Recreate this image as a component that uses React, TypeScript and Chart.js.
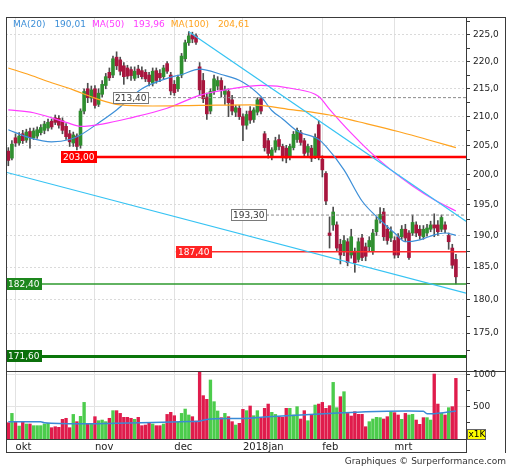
import React, { useEffect, useRef } from "react";
import { Chart, registerables } from "chart.js";

Chart.register(...registerables);

// ---------------- data ----------------
const monthStartIdx = [2, 24, 46, 65, 87, 107];
const monthLabels = ["okt", "nov", "dec", "2018jan", "feb", "mrt"];

const opens = [
  204.0, 202.8, 206.3, 205.4, 207.0, 205.9, 207.4, 206.3, 206.6, 207.2,
  207.6, 208.0, 209.2, 209.8, 209.7, 209.3, 208.3, 207.0, 205.4, 206.6,
  205.0, 211.0, 215.0, 213.3, 215.0, 212.2, 214.0, 215.6, 218.0, 217.5,
  220.8, 220.3, 219.2, 218.8, 218.5, 216.9, 218.6, 218.3, 218.0, 217.5,
  216.0, 218.3, 217.8, 217.2, 219.6, 217.5, 215.8, 215.0, 217.5, 220.5,
  223.5, 225.0, 224.8, 219.0, 216.5, 213.5, 211.0, 214.5, 215.5, 216.5,
  214.0, 214.5, 213.0, 210.8, 211.5, 210.0, 208.5, 211.0, 209.5, 210.8,
  213.2, 207.0, 205.8, 203.0, 204.2, 206.0, 204.8, 204.5, 203.0, 204.6,
  206.0, 207.2, 205.8, 203.8, 204.5, 203.0, 208.6, 202.6, 200.2, 190.4,
  191.7, 191.7, 188.6, 187.5, 189.0, 186.9, 187.5, 186.2, 189.6, 188.2,
  188.2, 187.5, 190.6, 192.6, 193.8, 191.0, 189.6, 189.2, 189.8, 189.8,
  191.0, 190.4, 190.4, 191.7, 191.0, 189.8, 190.4, 191.0, 191.7, 191.7,
  191.0, 191.7, 190.0, 188.0, 186.2,
];
const highs = [
  204.6, 205.8, 207.0, 207.2, 207.6, 207.8, 208.0, 208.0, 208.2, 208.6,
  209.2, 209.6, 209.6, 210.3, 210.2, 209.8, 208.8, 207.6, 207.3, 207.0,
  211.4, 215.0, 216.0, 215.5, 215.6, 215.0, 216.5, 217.8, 218.8, 221.0,
  221.8, 220.8, 219.8, 219.3, 219.0, 219.0, 219.3, 219.0, 218.5, 218.0,
  218.8, 218.8, 218.5, 219.3, 220.0, 218.0, 216.5, 217.5, 221.5, 224.0,
  225.6, 225.5, 225.2, 219.8, 217.8, 214.2, 215.0, 217.5, 217.2, 217.0,
  215.5, 215.0, 213.8, 212.0, 212.0, 210.5, 211.0, 211.8, 211.6, 213.4,
  213.4, 207.4, 206.2, 204.6, 206.4, 206.8, 205.2, 205.0, 205.2, 207.4,
  208.0, 207.6, 206.2, 205.2, 205.0, 207.0, 209.3, 203.2, 200.5, 193.0,
  194.6, 192.2, 189.4, 190.0, 189.5, 191.0, 188.0, 189.6, 190.2, 188.8,
  189.8, 191.0, 193.0, 194.5, 194.4, 191.6, 191.4, 189.8, 190.3, 191.6,
  191.8, 190.8, 193.3, 192.2, 191.6, 191.6, 191.8, 192.3, 193.5, 192.4,
  193.3, 192.2, 190.4, 188.6, 187.0,
];
const lows = [
  201.5, 202.5, 204.8, 205.0, 205.3, 205.5, 204.5, 206.0, 206.2, 206.8,
  207.0, 207.5, 207.8, 208.6, 208.0, 207.0, 206.0, 204.8, 204.8, 204.2,
  204.5, 210.5, 212.5, 212.6, 211.5, 211.8, 213.5, 215.0, 216.5, 217.0,
  218.5, 217.5, 215.8, 216.8, 216.5, 216.5, 217.0, 216.8, 216.3, 215.5,
  215.5, 216.0, 216.3, 216.8, 217.8, 213.9, 213.8, 214.5, 217.0, 220.0,
  223.0, 223.5, 223.2, 213.8, 212.5, 209.5, 210.5, 214.0, 214.8, 213.5,
  212.2, 210.0, 210.3, 210.0, 209.5, 205.8, 207.8, 208.8, 209.0, 210.3,
  210.5, 204.0, 202.8, 202.5, 203.8, 204.2, 202.3, 202.0, 202.5, 204.2,
  205.5, 205.0, 203.2, 203.2, 202.2, 202.7, 202.5, 199.6, 195.0, 188.0,
  190.8, 187.5, 185.5, 186.8, 185.2, 186.4, 184.2, 185.8, 186.0, 186.0,
  187.5, 187.0, 190.0, 192.0, 189.2, 188.6, 189.0, 186.4, 186.5, 189.4,
  189.0, 186.2, 190.0, 189.8, 189.4, 189.4, 189.9, 190.6, 189.8, 190.0,
  190.6, 190.4, 187.8, 184.8, 182.4,
];
const closes = [
  202.4, 205.2, 205.4, 206.6, 205.8, 207.3, 206.3, 207.5, 207.7, 208.1,
  208.7, 209.0, 208.2, 209.0, 208.5, 207.6, 206.5, 205.6, 206.8, 204.8,
  211.0, 214.5, 213.4, 214.8, 212.0, 214.2, 215.8, 217.2, 217.0, 220.5,
  219.2, 218.2, 217.2, 217.3, 217.4, 218.2, 217.6, 217.2, 216.8, 216.3,
  218.2, 216.5, 217.0, 218.8, 218.2, 214.6, 214.3, 217.1, 221.0, 223.5,
  224.8, 224.2, 223.6, 214.8, 213.2, 210.5, 214.5, 216.8, 216.5, 214.8,
  214.8, 212.5, 211.0, 211.6, 210.0, 208.5, 210.4, 209.4, 211.2, 213.0,
  211.0, 204.6, 203.6, 204.2, 205.8, 204.8, 203.0, 202.8, 204.8, 206.9,
  207.6, 205.5, 203.6, 204.8, 202.8, 206.4, 203.0, 200.8, 195.6, 190.0,
  193.8, 188.0, 186.9, 189.2, 185.7, 189.8, 185.7, 189.0, 186.5, 186.7,
  189.2, 190.4, 192.5, 193.4, 189.8, 189.2, 190.6, 186.9, 186.9, 191.0,
  189.6, 186.5, 192.1, 190.4, 190.0, 191.0, 191.2, 191.7, 191.2, 190.6,
  192.9, 191.0, 189.0, 185.3, 183.5,
];
// volume in thousands
const volumes = [
  252, 396, 268, 200, 273, 232, 232, 206, 206, 206,
  232, 242, 175, 190, 180, 304, 320, 175, 380, 268,
  350, 566, 242, 242, 345, 283, 293, 268, 320, 438,
  438, 396, 335, 335, 320, 304, 335, 206, 216, 258,
  232, 206, 206, 232, 380, 412, 360, 258, 396, 463,
  371, 345, 278, 1050, 670, 613, 912, 577, 433, 330,
  396, 345, 268, 216, 242, 458, 438, 510, 360, 438,
  320, 474, 540, 412, 380, 345, 335, 474, 474, 371,
  500, 309, 438, 283, 371, 525, 540, 566, 474, 515,
  875, 484, 654, 731, 396, 355, 422, 381, 381, 190,
  268, 309, 335, 330, 309, 345, 422, 407, 371, 304,
  396, 371, 381, 293, 227, 330, 330, 293, 1004, 540,
  396, 371, 484, 500, 937,
];
const volumeUp = [
  0, 1, 0, 1, 0, 1, 0, 1, 1, 1,
  1, 1, 0, 0, 0, 0, 0, 0, 1, 0,
  1, 1, 0, 1, 0, 1, 1, 1, 0, 1,
  0, 0, 0, 0, 0, 1, 0, 0, 0, 0,
  1, 0, 0, 1, 0, 0, 0, 1, 1, 1,
  1, 0, 0, 0, 0, 0, 1, 1, 1, 0,
  1, 0, 0, 1, 0, 0, 1, 0, 1, 1,
  0, 0, 0, 1, 1, 0, 0, 0, 1, 1,
  1, 0, 0, 1, 0, 1, 0, 0, 0, 0,
  1, 1, 0, 1, 0, 0, 0, 0, 0, 0,
  1, 1, 1, 1, 0, 0, 1, 0, 0, 1,
  0, 1, 1, 0, 0, 0, 1, 1, 0, 0,
  1, 0, 1, 0, 0,
];

const ma20Idx = [0, 6, 12, 17, 20, 25, 30, 37, 44, 48, 53, 59, 65, 70, 73, 76, 80, 86, 88, 93, 98, 103, 107, 110, 114, 118, 121, 124];
const ma20Val = [207.7, 206.3, 205.6, 206.0, 206.8, 208.9, 211.2, 215.0, 216.9, 217.6, 218.6, 217.6, 216.2, 213.6, 211.1, 209.6, 207.5, 206.0, 204.8, 200.8, 195.6, 192.5, 190.4, 189.0, 189.3, 190.1, 190.4, 190.01];
const ma50Idx = [0, 7, 16, 20, 26, 34, 44, 53, 62, 70, 79, 86, 89, 95, 100, 106, 112, 118, 124];
const ma50Val = [211.2, 210.7, 209.0, 208.3, 208.7, 209.8, 211.5, 213.8, 215.0, 215.6, 215.0, 213.6, 211.3, 207.1, 204.0, 200.8, 198.1, 195.8, 193.96];
const ma100Idx = [0, 6, 12, 18, 24, 31, 40, 53, 67, 79, 89, 97, 108, 116, 124];
const ma100Val = [218.8, 217.5, 216.1, 214.8, 213.3, 212.1, 211.9, 212.0, 212.1, 211.2, 210.3, 209.1, 207.4, 206.0, 204.61];
const volMaIdx = [0, 9, 10, 20, 30, 40, 50, 53, 55, 62, 65, 72, 81, 90, 99, 111, 115, 116, 118, 121, 124];
const volMaVal = [268, 268, 252, 235, 245, 255, 270, 276, 303, 316, 318, 345, 372, 398, 423, 434, 428, 390, 392, 410, 434];

const trendAIdx = [50, 126.8];
const trendAVal = [225.6, 192.3];
const trendBIdx = [-0.64, 126.8];
const trendBVal = [200.4, 181.0];

const levelValues = [213.4, 203.0, 193.3, 187.4, 182.4, 171.6];

const priceTicks = [172.5, 175, 177.5, 180, 182.5, 185, 187.5, 190, 192.5, 195, 197.5, 200, 202.5, 205, 207.5, 210, 212.5, 215, 217.5, 220, 222.5, 225, 227.5];
const volumeTicks = [250, 500, 750, 1000];

// ---------------- layout / styles ----------------
const X_MIN = -0.64;
const X_MAX = 126.8;
const FONT = "'DejaVu Sans', Verdana, sans-serif";

const C = {
  up: "#2f8f2f",
  down: "#a8163e",
  wick: "#4d4d4d",
  volUp: "#4ccc4c",
  volDown: "#e01c4c",
  ma20: "#3d8fd8",
  ma50: "#ff3cff",
  ma100: "#ffa31f",
  trend: "#36c3f3",
  volMa: "#3a8ad6",
  frame: "#3a3a3a",
  grid: "#e2e2e2",
  text: "#222222",
};

const levelStyles = [
  { from: 29, color: "#8a8a8a", width: 1, dash: [3, 2], box: "#ffffff", boxBorder: "#7a7a7a", text: "#333333" },
  { from: 14.6, color: "#ff0000", width: 2.6, dash: [], box: "#ff0000", boxBorder: "#ff0000", text: "#ffffff" },
  { from: 61.7, color: "#8a8a8a", width: 1, dash: [3, 2], box: "#ffffff", boxBorder: "#7a7a7a", text: "#333333" },
  { from: 46.4, color: "#ff2b2b", width: 1.5, dash: [], box: "#ff2424", boxBorder: "#ff2424", text: "#ffffff" },
  { from: X_MIN, color: "#2e9a2e", width: 1.5, dash: [], box: "#1d871d", boxBorder: "#1d871d", text: "#ffffff" },
  { from: X_MIN, color: "#0a760a", width: 3, dash: [], box: "#0b700b", boxBorder: "#0b700b", text: "#ffffff" },
];

const fmt = (v: number, d: number) => v.toFixed(d).replace(".", ",");
const pts = (idx: number[], val: number[]) => idx.map((x, k) => ({ x, y: val[k] }));

const annotPlugin = {
  id: "annot",
  afterDatasetsDraw(chart: any) {
    const { ctx } = chart;
    const xs = chart.scales.x;
    const ys = chart.scales.y;
    ctx.save();
    ctx.font = `9px ${FONT}`;
    ctx.textBaseline = "middle";
    ctx.textAlign = "left";
    levelValues.forEach((v, k) => {
      const st = levelStyles[k];
      const txt = fmt(v, 2);
      const w = Math.ceil(ctx.measureText(txt).width) + 4;
      const h = 12;
      const x0 = Math.round(xs.getPixelForValue(st.from));
      const y0 = Math.round(ys.getPixelForValue(v) - h / 2);
      ctx.fillStyle = st.box;
      ctx.fillRect(x0, y0, w, h);
      ctx.strokeStyle = st.boxBorder;
      ctx.lineWidth = 1;
      ctx.strokeRect(x0 + 0.5, y0 + 0.5, w - 1, h - 1);
      ctx.fillStyle = st.text;
      ctx.fillText(txt, x0 + 2, y0 + h / 2 + 0.5);
    });
    ctx.restore();
  },
  afterDraw(chart: any) {
    const { ctx, chartArea } = chart;
    const { left, right, top, bottom } = chartArea;
    const xs = chart.scales.x;
    const yv = chart.scales.yv;
    const outerRight = chart.scales.y.right;
    ctx.save();
    ctx.strokeStyle = C.frame;
    ctx.lineWidth = 1;
    const line = (x1: number, y1: number, x2: number, y2: number) => {
      ctx.beginPath();
      ctx.moveTo(x1, y1);
      ctx.lineTo(x2, y2);
      ctx.stroke();
    };
    line(left, top + 0.5, outerRight, top + 0.5);
    line(left + 0.5, top, left + 0.5, xs.bottom);
    line(outerRight - 0.5, top, outerRight - 0.5, xs.bottom);
    line(left, Math.round(yv.top) + 0.5, outerRight, Math.round(yv.top) + 0.5);
    line(left, xs.bottom - 0.5, right, xs.bottom - 0.5);
    line(right + 0.5, bottom, right + 0.5, xs.bottom);

    // legend
    ctx.font = `9px ${FONT}`;
    ctx.textBaseline = "middle";
    ctx.textAlign = "left";
    const items: [string, string, string][] = [
      ["MA(20)", fmt(ma20Val[ma20Val.length - 1], 2), C.ma20],
      ["MA(50)", fmt(ma50Val[ma50Val.length - 1], 2), C.ma50],
      ["MA(100)", fmt(ma100Val[ma100Val.length - 1], 2), C.ma100],
    ];
    let x = left + 7;
    const ly = top + 8;
    items.forEach(([lab, val, col]) => {
      ctx.fillStyle = col;
      ctx.fillText(lab, x, ly);
      x += ctx.measureText(lab).width + 9;
      ctx.fillText(val, x, ly);
      x += ctx.measureText(val).width + 6;
    });

    // x1K box
    const bx = right + 1;
    const by = bottom - 10;
    ctx.fillStyle = "#ffff00";
    ctx.fillRect(bx, by, 19, 11);
    ctx.strokeStyle = "#666";
    ctx.strokeRect(bx + 0.5, by + 0.5, 18, 10);
    ctx.fillStyle = "#000";
    ctx.fillText("x1K", bx + 1.5, by + 6);

    // footer
    ctx.fillStyle = "#333";
    ctx.textAlign = "right";
    ctx.fillText("Graphiques \u00a9 Surperformance.com", outerRight, 462);
    ctx.restore();
  },
};

function buildConfig(): any {
  const wickData = opens.map((_, i) => ({ x: i, y: [lows[i], highs[i]] }));
  const bodyData = opens.map((o, i) => ({ x: i, y: [o, closes[i]] }));
  const bodyColors = opens.map((o, i) => (closes[i] >= o ? C.up : C.down));
  const volData = volumes.map((v, i) => ({ x: i, y: v }));
  const volColors = volumeUp.map((u) => (u ? C.volUp : C.volDown));

  const lineDs = (data: any[], color: string, width: number, order: number, extra: any = {}) => ({
    type: "line",
    data,
    borderColor: color,
    borderWidth: width,
    pointRadius: 0,
    fill: false,
    order,
    yAxisID: "y",
    ...extra,
  });

  const levelDs = levelValues.map((v, k) =>
    lineDs(
      [
        { x: levelStyles[k].from, y: v },
        { x: X_MAX, y: v },
      ],
      levelStyles[k].color,
      levelStyles[k].width,
      3,
      { borderDash: levelStyles[k].dash }
    )
  );

  return {
    type: "bar",
    data: {
      datasets: [
        {
          type: "bar",
          data: wickData,
          backgroundColor: C.wick,
          barThickness: 1,
          grouped: false,
          yAxisID: "y",
          order: 8,
        },
        {
          type: "bar",
          data: bodyData,
          backgroundColor: bodyColors,
          barThickness: 3,
          minBarLength: 1,
          grouped: false,
          yAxisID: "y",
          order: 7,
        },
        {
          type: "bar",
          data: volData,
          backgroundColor: volColors,
          barThickness: 2.7,
          grouped: false,
          yAxisID: "yv",
          order: 9,
        },
        lineDs(pts(volMaIdx, volMaVal), C.volMa, 1.5, 4, { yAxisID: "yv", cubicInterpolationMode: "monotone" }),
        ...levelDs,
        lineDs(pts(ma100Idx, ma100Val), C.ma100, 1.2, 2, { cubicInterpolationMode: "monotone" }),
        lineDs(pts(ma50Idx, ma50Val), C.ma50, 1.2, 2, { cubicInterpolationMode: "monotone" }),
        lineDs(pts(ma20Idx, ma20Val), C.ma20, 1.2, 2, { cubicInterpolationMode: "monotone" }),
        lineDs(pts(trendAIdx, trendAVal), C.trend, 1.2, 1),
        lineDs(pts(trendBIdx, trendBVal), C.trend, 1.2, 1),
      ],
    },
    options: {
      responsive: false,
      animation: false,
      devicePixelRatio: 1,
      events: [],
      layout: { padding: { left: 6, top: 17, right: 6, bottom: 17 } },
      plugins: { legend: { display: false }, tooltip: { enabled: false } },
      scales: {
        x: {
          type: "linear",
          min: X_MIN,
          max: X_MAX,
          bounds: "data",
          offset: false,
          position: "bottom",
          afterBuildTicks: (s: any) => {
            s.ticks = monthStartIdx.map((v) => ({ value: v }));
          },
          afterFit: (s: any) => {
            s.height = 14;
          },
          ticks: {
            autoSkip: false,
            maxRotation: 0,
            minRotation: 0,
            align: "start",
            padding: 2,
            color: C.text,
            font: { size: 10, family: FONT },
            callback: (v: number) => {
              const k = monthStartIdx.indexOf(v);
              return k >= 0 ? monthLabels[k] : "";
            },
          },
          grid: { color: C.grid, drawTicks: false, offset: false },
          border: { color: C.frame },
        },
        y: {
          type: "logarithmic",
          position: "right",
          stack: "main",
          stackWeight: 354,
          min: 169.5,
          max: 228.4,
          bounds: "data",
          afterBuildTicks: (s: any) => {
            s.ticks = priceTicks.map((v) => ({ value: v }));
          },
          afterFit: (s: any) => {
            s.width = 40;
          },
          ticks: {
            autoSkip: false,
            padding: 3,
            color: C.text,
            font: { size: 9, family: FONT },
            callback: (v: number) => (v % 5 === 0 ? fmt(v, 1) : ""),
          },
          grid: {
            color: (c: any) => (c.tick && c.tick.value % 5 === 0 ? "#dadada" : "rgba(0,0,0,0)"),
            tickColor: C.frame,
            tickLength: 4,
          },
          border: { color: C.frame, dash: [2, 2] },
        },
        yv: {
          type: "linear",
          position: "right",
          stack: "main",
          stackWeight: 68,
          min: 0,
          max: 1051,
          bounds: "data",
          afterBuildTicks: (s: any) => {
            s.ticks = volumeTicks.map((v) => ({ value: v }));
          },
          afterFit: (s: any) => {
            s.width = 40;
          },
          ticks: {
            autoSkip: false,
            padding: 3,
            color: C.text,
            font: { size: 9, family: FONT },
            callback: (v: number) => (v % 500 === 0 ? String(v) : ""),
          },
          grid: {
            color: (c: any) => (c.tick && c.tick.value % 500 === 0 ? "#e4e4e4" : "rgba(0,0,0,0)"),
            tickColor: C.frame,
            tickLength: 4,
          },
          border: { color: C.frame },
        },
      },
    },
    plugins: [annotPlugin],
  };
}

export default function App() {
  const ref = useRef<HTMLCanvasElement | null>(null);
  useEffect(() => {
    const canvas = ref.current;
    if (!canvas) return;
    Chart.defaults.font.family = FONT;
    Chart.defaults.font.size = 9;
    const chart = new Chart(canvas, buildConfig());
    return () => chart.destroy();
  }, []);
  return (
    <div style={{ position: "absolute", left: 0, top: 0, width: 512, height: 470, background: "#ffffff" }}>
      <canvas ref={ref} width={512} height={470} style={{ display: "block", width: 512, height: 470 }} />
    </div>
  );
}
